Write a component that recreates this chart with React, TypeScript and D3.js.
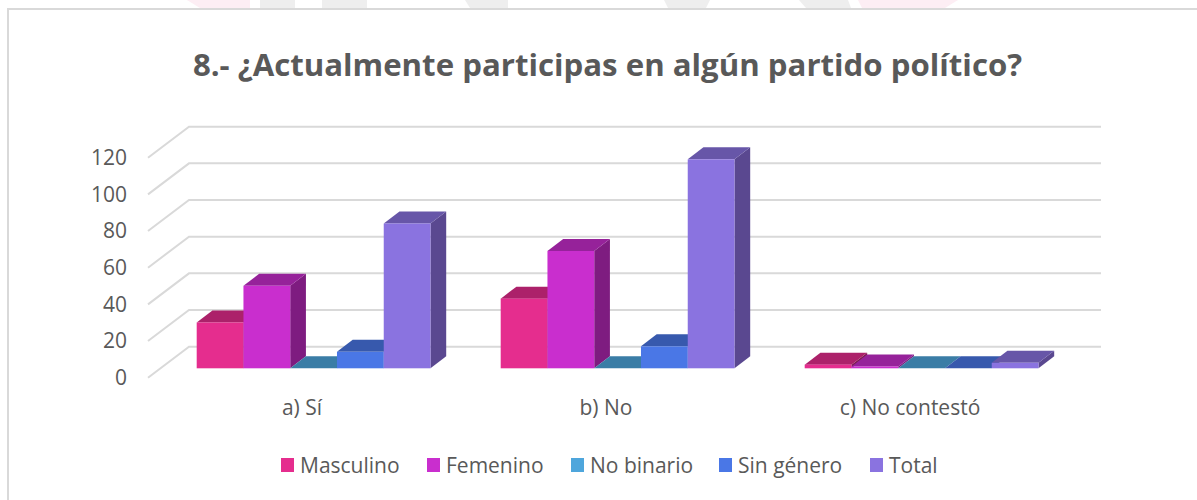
import React from "react";
import * as d3 from "d3";

const categories = ["a) Sí", "b) No", "c) No contestó"];
const seriesNames = ["Masculino", "Femenino", "No binario", "Sin género", "Total"];
const masculino = [25, 38, 2];
const femenino = [45, 64, 1];
const noBinario = [0, 0, 0];
const sinGenero = [9, 12, 0];
const total = [79, 114, 3];
const seriesValues = [masculino, femenino, noBinario, sinGenero, total];
const yTicks = [0, 20, 40, 60, 80, 100, 120];
const frontColors = ["#e52d8e", "#c92ece", "#4ea6dc", "#4a77e6", "#8a73e0"];
const topColors = ["#ac216a", "#96229a", "#3a7da6", "#3759ad", "#6756a8"];
const sideColors = ["#7f1a4f", "#7e1c80", "#2c5d7c", "#293f80", "#5a4890"];
const title = "8.- ¿Actualmente participas en algún partido político?";

const FONT = "'Open Sans', 'Noto Sans', sans-serif";
const W = 1197;
const H = 500;

export default function App() {
  const gridLeft = 148;
  const gridW = 912;
  const floorY = 377.7;
  const depthX = 41;
  const depthY = 31;
  const barDX = 15.7;
  const barDY = 12;
  const yFront = d3.scaleLinear().domain([0, 120]).range([floorY, 157.7]);
  const yBar = d3.scaleLinear().domain([0, 120]).range([368.3, 148.3]);
  const xCat = d3.scaleBand<string>().domain(categories).range([gridLeft, gridLeft + gridW]);
  const xSeries = d3.scaleBand<number>().domain(d3.range(5)).range([48.7, 282.5]);
  const legendX = [281, 427, 571, 719, 870];

  return (
    <svg width={W} height={H} viewBox={`0 0 ${W} ${H}`}
      style={{ position: "absolute", left: 0, top: 0, display: "block", background: "#fff" }}>
      <g>
        <path d="M187,0 L250,0 L250,8 L200,8 Z" fill="#fdeef4" />
        <rect x={260} y={0} width={35} height={8} fill="#eeeeee" />
        <rect x={322} y={0} width={45} height={8} fill="#eeeeee" />
        <path d="M465,0 L508,0 L508,8 L470,8 Z" fill="#eeeeee" />
        <path d="M664,0 L710,0 L706,8 L668,8 Z" fill="#eeeeee" />
        <path d="M799,0 L848,0 L851,8 L806,8 Z" fill="#eeeeee" />
        <path d="M858,0 L958,0 L945,8 L862,8 Z" fill="#fdeef4" />
      </g>
      <path d={`M8,${H} L8,9 L${W},9`} fill="none" stroke="#d9d9d9" strokeWidth={2} />
      <text x={607.5} y={76} textAnchor="middle" fontFamily={FONT} fontWeight={700} fontSize={31.2} fill="#595959">{title}</text>
      {yTicks.map((t) => (
        <g key={t}>
          <polyline
            points={`${gridLeft},${yFront(t)} ${gridLeft + depthX},${yFront(t) - depthY} ${gridLeft + depthX + gridW},${yFront(t) - depthY}`}
            fill="none" stroke="#d9d9d9" strokeWidth={2} />
          <text x={127} y={yFront(t)} dy="0.35em" textAnchor="end" fontFamily={FONT} fontSize={21} fill="#595959">{t}</text>
        </g>
      ))}
      {categories.map((c, ci) => (
        <g key={c}>
          {seriesNames.map((s, si) => {
            const x0 = (xCat(c) as number) + (xSeries(si) as number);
            const w = xSeries.bandwidth();
            const y0 = yBar(0);
            const yT = yBar(seriesValues[si][ci]);
            return (
              <g key={s}>
                <path d={`M${x0 + w},${y0} L${x0 + w + barDX},${y0 - barDY} L${x0 + w + barDX},${yT - barDY} L${x0 + w},${yT} Z`} fill={sideColors[si]} />
                <path d={`M${x0},${yT} L${x0 + barDX},${yT - barDY} L${x0 + w + barDX},${yT - barDY} L${x0 + w},${yT} Z`} fill={topColors[si]} />
                <rect x={x0} y={yT} width={w} height={y0 - yT} fill={frontColors[si]} />
              </g>
            );
          })}
          <text x={(xCat(c) as number) + xCat.bandwidth() / 2 + 2} y={408} dy="0.35em" textAnchor="middle" fontFamily={FONT} fontSize={21} fill="#595959">{c}</text>
        </g>
      ))}
      {seriesNames.map((s, i) => (
        <g key={s}>
          <rect x={legendX[i]} y={458} width={13} height={14} fill={frontColors[i]} />
          <text x={legendX[i] + 19} y={466} dy="0.35em" fontFamily={FONT} fontSize={21} fill="#595959">{s}</text>
        </g>
      ))}
    </svg>
  );
}
